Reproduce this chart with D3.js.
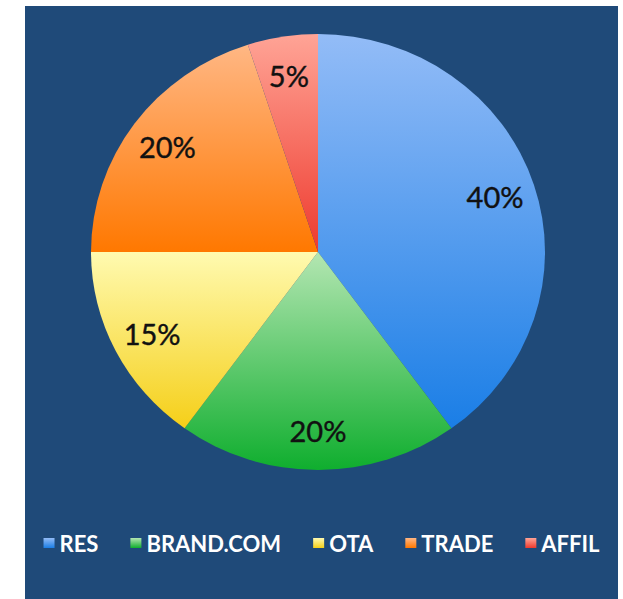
<!DOCTYPE html>
<html>
<head>
<meta charset="utf-8">
<script src="https://cdn.jsdelivr.net/npm/d3@7"></script>
<style>
  html, body { margin: 0; padding: 0; background: #ffffff; }
  svg { display: block; }
</style>
</head>
<body>
<svg id="chart" width="623" height="599"></svg>
<script>
const categories = ["RES", "BRAND.COM", "OTA", "TRADE", "AFFIL"];
const values = [40, 20, 15, 20, 5];
const valueLabels = ["40%", "20%", "15%", "20%", "5%"];
const colorsTop = ["#93bcf7", "#b4e6b2", "#fffab0", "#ffb784", "#ffa496"];
const colorsBottom = ["#1a7ee6", "#0fae2e", "#f5cf18", "#ff7800", "#ee3a2e"];

const svg = d3.select("#chart");

// background panel
svg.append("rect").attr("x", 25).attr("y", 6).attr("width", 593).attr("height", 593).attr("fill", "#1f4a79");

const defs = svg.append("defs");
categories.forEach((c, i) => {
  const g = defs.append("linearGradient").attr("id", "grad" + i)
    .attr("x1", 0).attr("y1", 0).attr("x2", 0).attr("y2", 1);
  g.append("stop").attr("offset", "0%").attr("stop-color", colorsTop[i]);
  g.append("stop").attr("offset", "100%").attr("stop-color", colorsBottom[i]);
});

const cx = 318, cy = 252, rx = 227, ry = 218;
const pie = d3.pie().sort(null).value(d => d);
const arcs = pie(values);
const arc = d3.arc().innerRadius(0).outerRadius(rx);

const pieG = svg.append("g").attr("transform", `translate(${cx},${cy}) scale(1,${ry / rx})`);
pieG.selectAll("path").data(arcs).enter().append("path")
  .attr("d", arc)
  .attr("fill", (d, i) => `url(#grad${i})`);

const lr = 0.82 * rx;
const labelArc = d3.arc().innerRadius(lr).outerRadius(lr);
svg.append("g").selectAll("text").data(arcs).enter().append("text")
  .attr("x", d => cx + labelArc.centroid(d)[0])
  .attr("y", d => cy + labelArc.centroid(d)[1] * ry / rx)
  .attr("text-anchor", "middle")
  .attr("dominant-baseline", "central")
  .attr("font-family", "Lato, 'Open Sans', sans-serif")
  .attr("font-size", 29)
  .attr("fill", "#111111")
  .attr("stroke", "#111111")
  .attr("stroke-width", 0.4)
  .text((d, i) => valueLabels[i]);

// legend
const legend = svg.append("g");
const items = legend.selectAll("g").data(categories).enter().append("g");
items.append("rect").attr("width", 11).attr("height", 10).attr("y", 538)
  .attr("fill", (d, i) => `url(#grad${i})`);
items.append("text").attr("y", 552)
  .attr("font-family", "Lato, 'Open Sans', sans-serif")
  .attr("font-weight", "bold")
  .attr("font-size", 22)
  .attr("fill", "#ffffff")
  .text(d => d);

const gapSw = 5, gapItem = 32;
let widths = [];
items.each(function () {
  widths.push(d3.select(this).select("text").node().getComputedTextLength());
});
const total = widths.reduce((a, w) => a + 11 + gapSw + w, 0) + gapItem * (widths.length - 1);
let x = 321.5 - total / 2;
items.each(function (d, i) {
  const g = d3.select(this);
  g.select("rect").attr("x", x);
  g.select("text").attr("x", x + 11 + gapSw);
  x += 11 + gapSw + widths[i] + gapItem;
});
</script>
</body>
</html>
